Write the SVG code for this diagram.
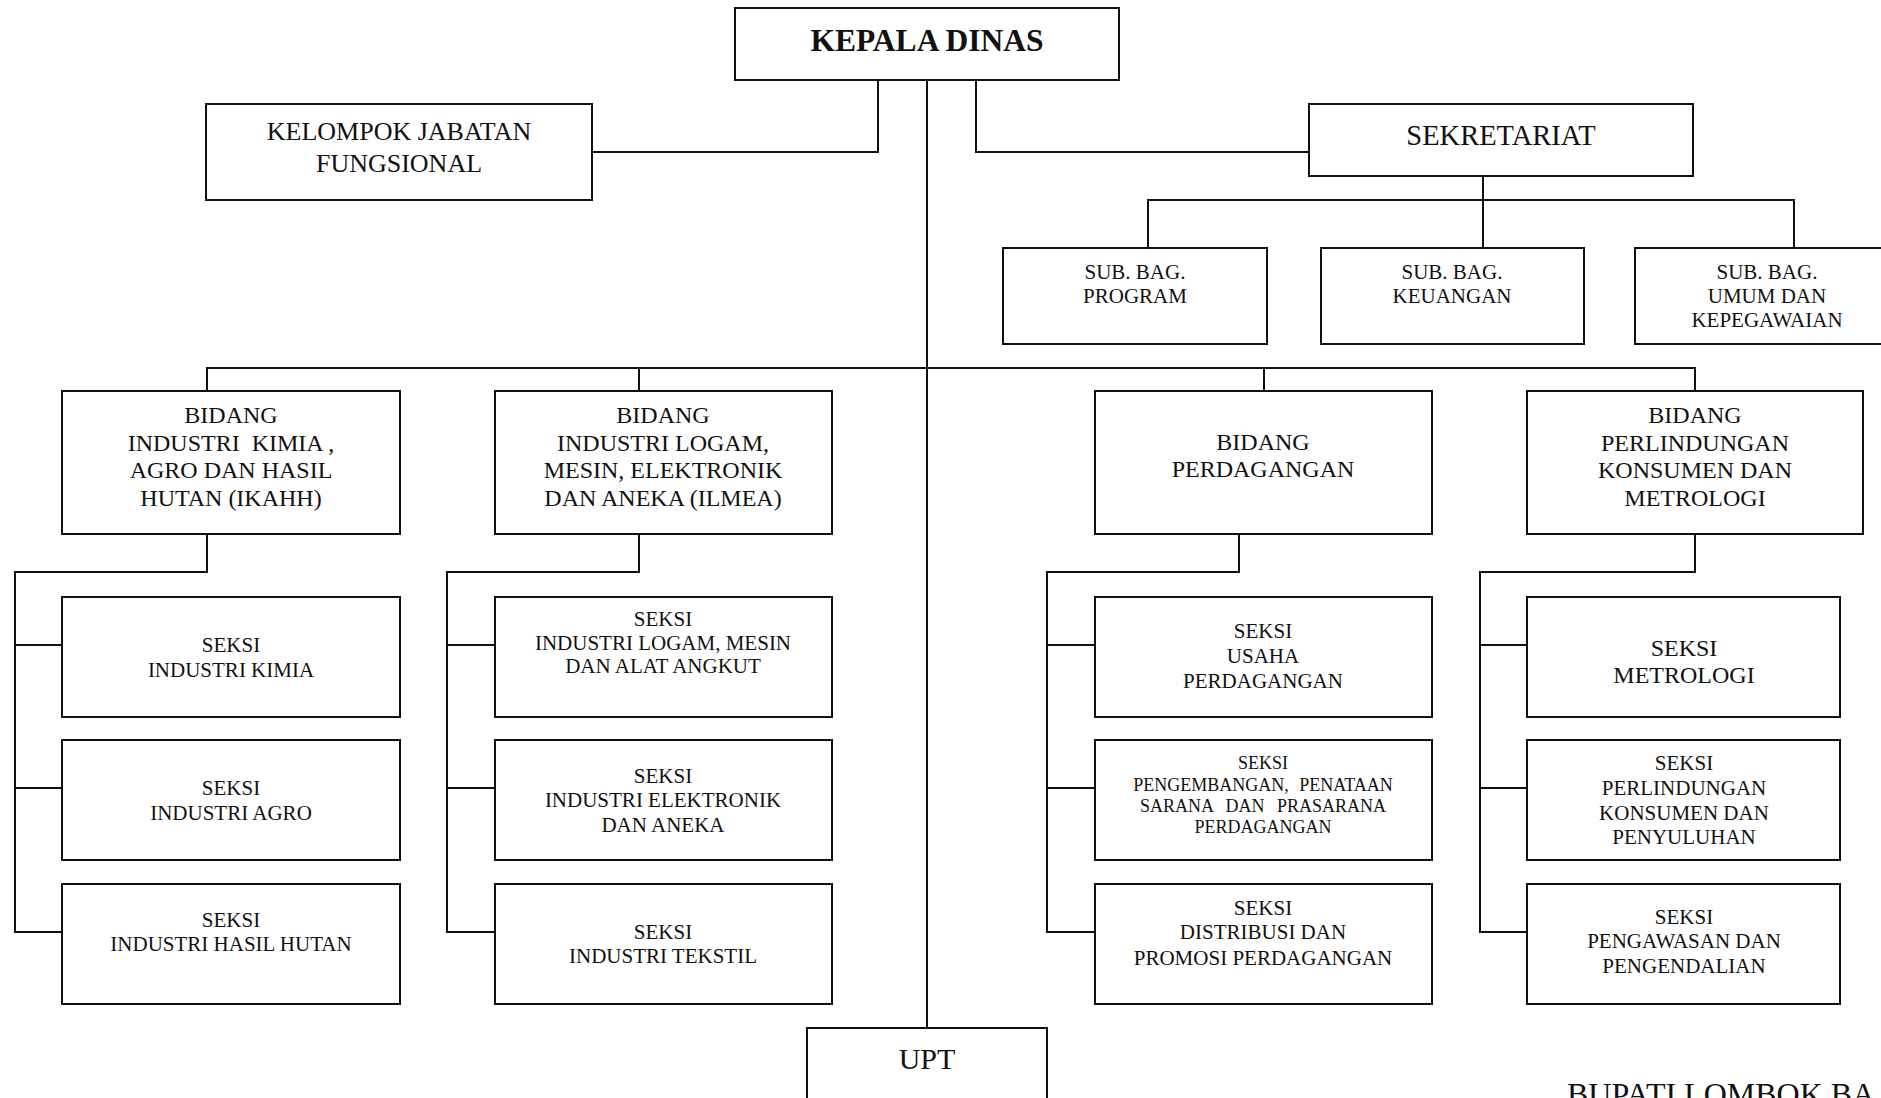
<svg xmlns="http://www.w3.org/2000/svg" width="1881" height="1098" viewBox="0 0 1881 1098">
<style>
  .box { fill: #fff; stroke: #111; stroke-width: 2; }
  .ln { fill: none; stroke: #111; stroke-width: 2; }
  text { font-family: "Liberation Serif", "Times New Roman", serif; fill: #111; text-anchor: middle; white-space: pre; }
  .t31b { font-size: 31.5px; font-weight: bold; }
  .t30 { font-size: 30px; }
  .t28 { font-size: 28.5px; }
  .t26 { font-size: 26px; }
  .t24 { font-size: 24px; }
  .t21 { font-size: 21px; }
  .t18 { font-size: 18px; }
</style>
<rect width="1881" height="1098" fill="#fff"/>

<g id="connectors">
  <path class="ln" d="M927,80 V1028"/>
  <path class="ln" d="M878,80 V152 H592"/>
  <path class="ln" d="M976,80 V152 H1309"/>
  <path class="ln" d="M1483,176 V248"/>
  <path class="ln" d="M1148,248 V200 H1794 V248"/>
  <path class="ln" d="M207,391 V368 H1695 V391"/>
  <path class="ln" d="M639,368 V391"/>
  <path class="ln" d="M1264,368 V391"/>
  <path class="ln" d="M207,534 V572 H15 V932 H62 M15,645 H62 M15,788 H62"/>
  <path class="ln" d="M639,534 V572 H447 V932 H495 M447,645 H495 M447,788 H495"/>
  <path class="ln" d="M1239,534 V572 H1047 V932 H1095 M1047,645 H1095 M1047,788 H1095"/>
  <path class="ln" d="M1695,534 V572 H1480 V932 H1527 M1480,645 H1527 M1480,788 H1527"/>
</g>

<g id="kepala-dinas">
  <rect class="box" x="735" y="8" width="384" height="72"/>
  <text class="t31b" x="927" y="51">KEPALA DINAS</text>
</g>
<g id="kelompok-jabatan">
  <rect class="box" x="206" y="104" width="386" height="96"/>
  <text class="t26" x="399" y="140">KELOMPOK JABATAN</text>
  <text class="t26" x="399" y="172">FUNGSIONAL</text>
</g>
<g id="sekretariat">
  <rect class="box" x="1309" y="104" width="384" height="72"/>
  <text class="t28" x="1501" y="145">SEKRETARIAT</text>
</g>
<g id="subbag-program">
  <rect class="box" x="1003" y="248" width="264" height="96"/>
  <text class="t21" x="1135" y="279">SUB. BAG.</text>
  <text class="t21" x="1135" y="303">PROGRAM</text>
</g>
<g id="subbag-keuangan">
  <rect class="box" x="1321" y="248" width="263" height="96"/>
  <text class="t21" x="1452" y="279">SUB. BAG.</text>
  <text class="t21" x="1452" y="303">KEUANGAN</text>
</g>
<g id="subbag-umum">
  <rect class="box" x="1635" y="248" width="265" height="96"/>
  <text class="t21" x="1767" y="279">SUB. BAG.</text>
  <text class="t21" x="1767" y="303">UMUM DAN</text>
  <text class="t21" x="1767" y="327">KEPEGAWAIAN</text>
</g>

<g id="bidang-ikahh">
  <rect class="box" x="62" y="391" width="338" height="143"/>
  <text class="t24" x="231" y="423">BIDANG</text>
  <text class="t24" x="231" y="451">INDUSTRI  KIMIA ,</text>
  <text class="t24" x="231" y="478">AGRO DAN HASIL</text>
  <text class="t24" x="231" y="506">HUTAN (IKAHH)</text>
</g>
<g id="bidang-ilmea">
  <rect class="box" x="495" y="391" width="337" height="143"/>
  <text class="t24" x="663" y="423">BIDANG</text>
  <text class="t24" x="663" y="451">INDUSTRI LOGAM,</text>
  <text class="t24" x="663" y="478">MESIN, ELEKTRONIK</text>
  <text class="t24" x="663" y="506">DAN ANEKA (ILMEA)</text>
</g>
<g id="bidang-perdagangan">
  <rect class="box" x="1095" y="391" width="337" height="143"/>
  <text class="t24" x="1263" y="450">BIDANG</text>
  <text class="t24" x="1263" y="477">PERDAGANGAN</text>
</g>
<g id="bidang-perlindungan">
  <rect class="box" x="1527" y="391" width="336" height="143"/>
  <text class="t24" x="1695" y="423">BIDANG</text>
  <text class="t24" x="1695" y="451">PERLINDUNGAN</text>
  <text class="t24" x="1695" y="478">KONSUMEN DAN</text>
  <text class="t24" x="1695" y="506">METROLOGI</text>
</g>

<g id="seksi-kimia">
  <rect class="box" x="62" y="597" width="338" height="120"/>
  <text class="t21" x="231" y="652">SEKSI</text>
  <text class="t21" x="231" y="677">INDUSTRI KIMIA</text>
</g>
<g id="seksi-agro">
  <rect class="box" x="62" y="740" width="338" height="120"/>
  <text class="t21" x="231" y="795">SEKSI</text>
  <text class="t21" x="231" y="820">INDUSTRI AGRO</text>
</g>
<g id="seksi-hasil-hutan">
  <rect class="box" x="62" y="884" width="338" height="120"/>
  <text class="t21" x="231" y="927">SEKSI</text>
  <text class="t21" x="231" y="951">INDUSTRI HASIL HUTAN</text>
</g>

<g id="seksi-logam">
  <rect class="box" x="495" y="597" width="337" height="120"/>
  <text class="t21" x="663" y="626">SEKSI</text>
  <text class="t21" x="663" y="650">INDUSTRI LOGAM, MESIN</text>
  <text class="t21" x="663" y="673">DAN ALAT ANGKUT</text>
</g>
<g id="seksi-elektronik">
  <rect class="box" x="495" y="740" width="337" height="120"/>
  <text class="t21" x="663" y="783">SEKSI</text>
  <text class="t21" x="663" y="807">INDUSTRI ELEKTRONIK</text>
  <text class="t21" x="663" y="832">DAN ANEKA</text>
</g>
<g id="seksi-tekstil">
  <rect class="box" x="495" y="884" width="337" height="120"/>
  <text class="t21" x="663" y="939">SEKSI</text>
  <text class="t21" x="663" y="963">INDUSTRI TEKSTIL</text>
</g>

<g id="seksi-usaha">
  <rect class="box" x="1095" y="597" width="337" height="120"/>
  <text class="t21" x="1263" y="638">SEKSI</text>
  <text class="t21" x="1263" y="663">USAHA</text>
  <text class="t21" x="1263" y="688">PERDAGANGAN</text>
</g>
<g id="seksi-pengembangan">
  <rect class="box" x="1095" y="740" width="337" height="120"/>
  <text class="t18" x="1263" y="769">SEKSI</text>
  <text class="t18" x="1263" y="791" word-spacing="6">PENGEMBANGAN, PENATAAN</text>
  <text class="t18" x="1263" y="812" word-spacing="8">SARANA DAN PRASARANA</text>
  <text class="t18" x="1263" y="833">PERDAGANGAN</text>
</g>
<g id="seksi-distribusi">
  <rect class="box" x="1095" y="884" width="337" height="120"/>
  <text class="t21" x="1263" y="915">SEKSI</text>
  <text class="t21" x="1263" y="939">DISTRIBUSI DAN</text>
  <text class="t21" x="1263" y="965">PROMOSI PERDAGANGAN</text>
</g>

<g id="seksi-metrologi">
  <rect class="box" x="1527" y="597" width="313" height="120"/>
  <text class="t24" x="1684" y="656">SEKSI</text>
  <text class="t24" x="1684" y="683">METROLOGI</text>
</g>
<g id="seksi-perlindungan">
  <rect class="box" x="1527" y="740" width="313" height="120"/>
  <text class="t21" x="1684" y="770">SEKSI</text>
  <text class="t21" x="1684" y="795">PERLINDUNGAN</text>
  <text class="t21" x="1684" y="820">KONSUMEN DAN</text>
  <text class="t21" x="1684" y="844">PENYULUHAN</text>
</g>
<g id="seksi-pengawasan">
  <rect class="box" x="1527" y="884" width="313" height="120"/>
  <text class="t21" x="1684" y="924">SEKSI</text>
  <text class="t21" x="1684" y="948">PENGAWASAN DAN</text>
  <text class="t21" x="1684" y="973">PENGENDALIAN</text>
</g>

<g id="upt">
  <rect class="box" x="807" y="1028" width="240" height="90"/>
  <text class="t30" x="927" y="1069">UPT</text>
</g>

<text x="1567" y="1105" style="font-size:32px; text-anchor:start">BUPATI LOMBOK BA</text>
</svg>
